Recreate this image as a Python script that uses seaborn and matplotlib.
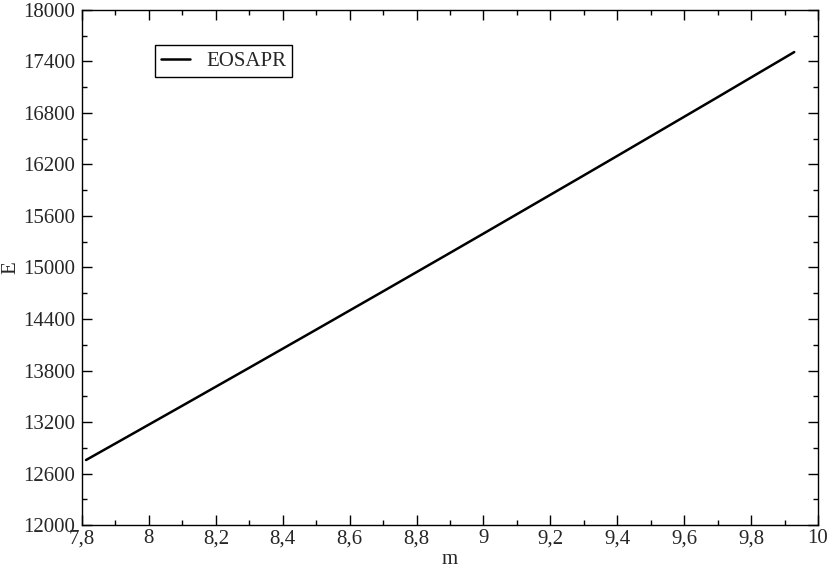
import matplotlib
matplotlib.use("Agg")
import matplotlib.pyplot as plt
from matplotlib.ticker import MultipleLocator, FuncFormatter
import pandas as pd
import seaborn as sns

# values
m_values = [7.812, 7.9, 8.0, 8.1, 8.2, 8.3, 8.4, 8.5, 8.6, 8.7, 8.8, 8.9,
            9.0, 9.1, 9.2, 9.3, 9.4, 9.5, 9.6, 9.7, 9.8, 9.9, 9.929]
e_values = [12757, 12950, 13170, 13390, 13611, 13832, 14054, 14276, 14499,
            14722, 14946, 15170, 15395, 15621, 15847, 16073, 16300, 16528,
            16756, 16984, 17214, 17443, 17510]
series_name = "EOSAPR"

df = pd.DataFrame({"m": m_values, "E": e_values, "series": series_name})

sns.set_style("ticks")
plt.rcParams["font.family"] = ["Liberation Serif", "DejaVu Serif"]
plt.rcParams["font.size"] = 15

fig = plt.figure(figsize=(8.3, 5.68), dpi=100)
ax = fig.add_axes([0.0988, 0.0757, 0.8867, 0.9067])

sns.lineplot(data=df, x="m", y="E", hue="series", palette=["black"],
             linewidth=1.8, ax=ax, sort=False)

ax.set_xlim(7.8, 10)
ax.set_ylim(12000, 18000)
ax.xaxis.set_major_locator(MultipleLocator(0.2))
ax.xaxis.set_minor_locator(MultipleLocator(0.1))
ax.yaxis.set_major_locator(MultipleLocator(600))
ax.yaxis.set_minor_locator(MultipleLocator(300))


def comma_fmt(v, pos):
    s = f"{v:.1f}".rstrip("0").rstrip(".")
    return s.replace(".", ",")


ax.xaxis.set_major_formatter(FuncFormatter(comma_fmt))
ax.yaxis.set_major_formatter(FuncFormatter(lambda v, pos: f"{v:.0f}"))

ax.tick_params(which="both", direction="in", top=True, right=True,
               color="black", labelsize=15)
ax.tick_params(axis="x", which="major", pad=3)
ax.tick_params(axis="y", which="major", pad=5)
ax.tick_params(which="major", length=7.5, width=1)
ax.tick_params(which="minor", length=3.8, width=1)
for sp in ax.spines.values():
    sp.set_linewidth(1)
    sp.set_color("black")

ax.set_xlabel("m", fontsize=15, labelpad=1)
ax.set_ylabel("E", fontsize=15, labelpad=2)

leg = ax.legend(loc="upper left", bbox_to_anchor=(0.099, 0.932),
                borderaxespad=0, fancybox=False, frameon=True,
                handlelength=1.4, handletextpad=0.75, fontsize=15,
                borderpad=0.3)
leg.get_frame().set_edgecolor("black")
leg.get_frame().set_linewidth(1)
leg.get_frame().set_alpha(1)

fig.savefig("out.png", dpi=100)
